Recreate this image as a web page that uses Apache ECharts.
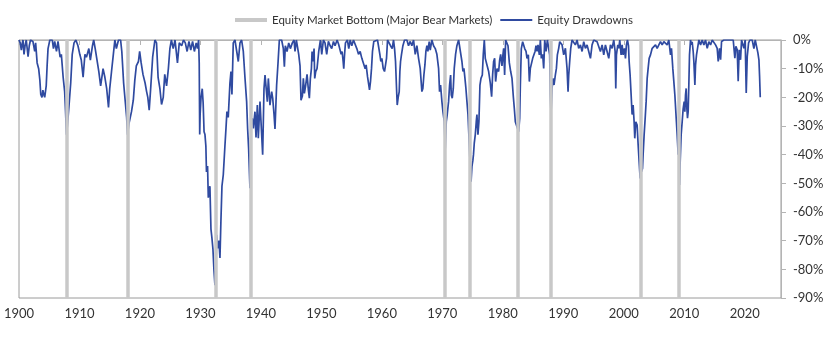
<!DOCTYPE html>
<html>
<head>
<meta charset="utf-8">
<script src="https://cdn.jsdelivr.net/npm/echarts@6/dist/echarts.min.js"></script>
<style>
  html, body { margin: 0; padding: 0; background: #ffffff; }
  #chart { width: 840px; height: 337px; }
</style>
</head>
<body>
<div id="chart"></div>
<script>
// Equity drawdowns from prior peak, in percent, as [decimal year, drawdown] pairs.
const dd1900s = [[1900.00,0],[1900.20,-1],[1900.39,-3.5],[1900.55,-1],[1900.66,0],[1900.83,-5],[1901.00,-2],[1901.20,0],[1901.50,-5.8],[1901.70,-2],[1901.90,0],[1902.10,0],[1902.30,-0.5],[1902.60,-4],[1902.75,-1],[1903.00,-8],[1903.25,-10],[1903.45,-14],[1903.60,-19],[1903.80,-20],[1903.95,-17.5],[1904.10,-19],[1904.25,-20],[1904.50,-16],[1904.65,-9],[1904.80,-3],[1905.10,0],[1905.50,0],[1905.70,-3],[1905.90,-0.5],[1906.20,-4],[1906.45,-0.5],[1906.80,-6],[1907.00,-5],[1907.30,-13],[1907.55,-18],[1907.70,-25],[1907.85,-33],[1908.00,-30],[1908.30,-22],[1908.55,-15],[1908.80,-5],[1909.10,-1],[1909.40,0],[1909.55,-0.5],[1909.75,-2],[1909.90,-3.5]];
const dd1910s = [[1910.05,-5],[1910.30,-7],[1910.60,-13],[1910.90,-5],[1911.15,-6],[1911.55,-3],[1911.80,-7],[1912.15,-2],[1912.35,0],[1912.60,-3],[1912.90,-7],[1913.20,-11],[1913.50,-16],[1913.70,-13],[1913.90,-10],[1914.20,-13],[1914.50,-17],[1914.80,-23.5],[1915.00,-17],[1915.30,-11],[1915.60,-5],[1915.85,0],[1916.10,-3],[1916.45,0],[1916.80,0],[1917.00,-4],[1917.30,-15],[1917.55,-21],[1917.80,-27],[1917.95,-33],[1918.20,-29],[1918.60,-25],[1918.90,-21],[1919.15,-14],[1919.40,-9],[1919.75,-7.5],[1919.95,-4]];
const dd1920s = [[1920.20,-8],[1920.50,-12],[1920.85,-15],[1921.10,-18],[1921.30,-20],[1921.53,-24.5],[1921.80,-16],[1922.10,-6],[1922.47,0],[1922.74,-1],[1923.00,-13],[1923.30,-17],[1923.57,-22.5],[1923.85,-20],[1924.10,-12],[1924.40,-16],[1924.70,-10],[1924.95,-3],[1925.20,0],[1925.50,-3],[1925.80,0],[1926.20,-8],[1926.50,-1],[1926.90,-2],[1927.20,0],[1927.50,-1],[1927.80,-4],[1928.10,-0.5],[1928.40,-3.5],[1928.70,-0.5],[1929.00,-4],[1929.30,-1],[1929.50,-3],[1929.70,0],[1929.80,-8],[1929.88,-33],[1929.95,-26]];
const dd1930s = [[1930.10,-20],[1930.30,-17],[1930.45,-22],[1930.60,-32],[1930.75,-33],[1930.90,-37],[1931.00,-46],[1931.18,-44],[1931.30,-55],[1931.45,-52],[1931.57,-51],[1931.74,-66],[1931.90,-69],[1932.07,-73],[1932.23,-80],[1932.40,-85.5],[1932.56,-80],[1932.67,-68],[1932.84,-72.7],[1933.06,-70],[1933.23,-76],[1933.39,-63],[1933.56,-51],[1933.78,-47],[1934.05,-37],[1934.22,-31],[1934.38,-25],[1934.60,-27],[1934.88,-15],[1935.05,-11],[1935.21,-19],[1935.43,-1],[1935.71,0],[1935.98,0],[1936.26,-7.5],[1936.54,-1],[1936.81,0],[1937.09,-4],[1937.36,-13],[1937.64,-21.5],[1937.80,-30.8],[1937.97,-37.8],[1938.19,-51.7],[1938.36,-29.7],[1938.58,-27.3],[1938.75,-30.8],[1939.02,-25],[1939.19,-34],[1939.41,-22.7],[1939.57,-34.3],[1939.85,-21.5]];
const dd1940s = [[1940.12,-21.5],[1940.29,-40],[1940.51,-17],[1940.68,-12.2],[1940.95,-12.2],[1941.06,-21.5],[1941.23,-13.4],[1941.50,-22.7],[1941.78,-18],[1941.95,-20.3],[1942.17,-26],[1942.33,-31],[1942.60,-15.7],[1942.83,-8],[1943.05,0],[1943.43,0],[1943.71,-3],[1943.88,-9.3],[1944.04,-2],[1944.32,-4],[1944.60,-1],[1944.87,-3],[1945.20,-1],[1945.48,0],[1945.64,-4],[1945.86,0],[1946.08,0],[1946.25,-5],[1946.47,-9],[1946.63,-21],[1946.86,-19.5],[1947.02,-13.4],[1947.19,-18.6],[1947.41,-15.7],[1947.63,-12],[1947.85,-17.4],[1948.01,-20.3],[1948.18,-13.4],[1948.35,-10],[1948.46,-4],[1948.62,-7.5],[1948.79,-3],[1948.90,-13.4],[1949.06,-11],[1949.28,-10],[1949.56,-4],[1949.84,0]];
const dd1950s = [[1950.06,-5],[1950.33,0],[1950.60,-1],[1950.88,-5],[1951.16,-0.5],[1951.45,-2],[1951.71,-3],[1952.00,-0.5],[1952.26,-2],[1952.60,0],[1952.85,-1.5],[1953.10,-2],[1953.27,-5],[1953.43,-4],[1953.60,-7.5],[1953.70,-10],[1953.82,-5.5],[1953.98,-1],[1954.30,0],[1954.53,-3],[1954.76,0],[1955.03,-2],[1955.31,0],[1955.64,0],[1955.86,-3],[1956.14,-5],[1956.41,-4],[1956.69,-6.4],[1956.96,-6.4],[1957.24,-10],[1957.40,-8.7],[1957.63,-12.8],[1957.79,-13.4],[1957.96,-17.4],[1958.12,-14.5],[1958.29,-9.9],[1958.45,-4],[1958.67,-0.5],[1958.95,0],[1959.28,0],[1959.50,-0.5],[1959.67,-5],[1959.83,-7.5]];
const dd1960s = [[1960.00,-6.4],[1960.22,-9.9],[1960.44,-11],[1960.60,-11.6],[1960.77,-6.4],[1960.94,0],[1961.21,-0.5],[1961.43,-2],[1961.71,-3],[1961.93,0],[1962.10,-3],[1962.26,-7.5],[1962.43,-17],[1962.54,-22.7],[1962.70,-20],[1962.87,-18],[1962.98,-11],[1963.09,-7.5],[1963.25,-5],[1963.48,-2],[1963.75,0],[1964.14,0],[1964.41,-2],[1964.69,-0.5],[1964.96,-2],[1965.24,0],[1965.52,-5],[1965.79,-2],[1966.07,-6.4],[1966.34,-9.9],[1966.62,-18],[1966.78,-16.9],[1966.95,-12.2],[1967.12,-8.7],[1967.28,-4],[1967.45,-2],[1967.61,-4],[1967.83,-0.6],[1968.00,-3.5],[1968.27,0],[1968.55,-2],[1968.83,-3],[1969.10,-5],[1969.38,-9.9],[1969.54,-18],[1969.71,-15.7],[1969.93,-21.5]];
const dd1970s = [[1970.10,-25],[1970.32,-28.5],[1970.48,-37.8],[1970.65,-28.5],[1970.81,-26],[1971.03,-21.5],[1971.20,-15.7],[1971.37,-12.2],[1971.48,-19.2],[1971.64,-20.3],[1971.81,-16.9],[1971.97,-9.9],[1972.19,-5],[1972.41,-2],[1972.69,0],[1973.02,0],[1973.24,-7.5],[1973.41,-11],[1973.57,-9.9],[1973.74,-13.4],[1973.90,-16.9],[1974.07,-21.5],[1974.24,-26],[1974.46,-36.6],[1974.62,-44.8],[1974.75,-49.4],[1974.90,-44],[1975.05,-42],[1975.15,-40],[1975.28,-36],[1975.45,-33],[1975.61,-28.5],[1975.72,-26],[1975.89,-33],[1976.05,-28.5],[1976.22,-15.7],[1976.39,-13.4],[1976.61,-12.2],[1976.77,-5],[1976.94,0],[1977.10,-6.4],[1977.38,-8.7],[1977.66,-11],[1977.93,-15],[1978.15,-19.8],[1978.32,-12],[1978.48,-7.5],[1978.65,-6.4],[1978.81,-14.5],[1979.04,-10],[1979.31,-11],[1979.48,-7],[1979.64,-5],[1979.86,-9]];
const dd1980s = [[1980.03,-5],[1980.14,-2.9],[1980.30,-12.2],[1980.47,0],[1980.69,0],[1980.86,-2],[1981.08,-8],[1981.30,-11],[1981.52,-13.4],[1981.74,-19.8],[1981.90,-23.8],[1982.07,-28.5],[1982.29,-28],[1982.46,-31],[1982.62,-32],[1982.79,-27.3],[1982.90,-15.7],[1983.06,-3],[1983.28,-0.6],[1983.45,0],[1983.62,-3],[1983.84,-4],[1984.00,-6.4],[1984.22,-5.2],[1984.39,-14.5],[1984.55,-9.9],[1984.77,-9.9],[1984.94,-6.4],[1985.10,-7],[1985.33,-4],[1985.49,-2],[1985.66,-4],[1985.82,-1.7],[1986.04,-5.2],[1986.21,0],[1986.37,-6.4],[1986.59,-5],[1986.76,-9.9],[1986.93,0],[1987.15,-4],[1987.37,0],[1987.59,0],[1987.75,-5.2],[1987.86,-19.2],[1987.97,-25.6],[1988.14,-16.9],[1988.30,-13.4],[1988.47,-15.7],[1988.69,-12.2],[1988.86,-9.9],[1989.02,-5.2],[1989.24,-2.9],[1989.41,-0.6],[1989.57,0],[1989.80,-1.7]];
const dd1990s = [[1990.07,-5.2],[1990.35,-2.9],[1990.62,-9.9],[1990.79,-18],[1990.90,-12.2],[1991.06,-7.5],[1991.23,-2.9],[1991.45,0],[1991.73,-0.6],[1992.00,-1.7],[1992.28,0],[1992.55,-2.9],[1992.83,-1.7],[1993.11,-4],[1993.38,-0.6],[1993.66,-2.9],[1993.93,-1.7],[1994.21,-4],[1994.49,-6.4],[1994.76,-1.7],[1995.04,0],[1995.59,-0.6],[1996.14,-4],[1996.42,-1.7],[1996.69,-5.2],[1996.97,-1.7],[1997.24,-4],[1997.52,-6.4],[1997.80,-1.7],[1998.07,-2.9],[1998.35,0],[1998.57,-4],[1998.68,-16.9],[1998.79,-5.2],[1999.01,-1.7],[1999.18,-2.9],[1999.34,0],[1999.56,-5.2],[1999.73,-1.7],[1999.89,-5.2]];
const dd2000s = [[2000.11,-2.9],[2000.28,-6.4],[2000.44,-1.7],[2000.61,0],[2000.78,-2],[2000.89,-7.5],[2001.05,-12.2],[2001.22,-19.2],[2001.38,-26],[2001.55,-22.7],[2001.71,-28.5],[2001.82,-34.3],[2001.99,-28.5],[2002.21,-29.7],[2002.38,-36.6],[2002.54,-42.4],[2002.71,-48.3],[2002.82,-41],[2002.93,-46],[2003.10,-44.8],[2003.20,-40],[2003.37,-33],[2003.54,-27.3],[2003.70,-21.5],[2003.87,-13.4],[2004.03,-9.9],[2004.20,-6.4],[2004.42,-5.2],[2004.70,-2.9],[2004.97,-2.9],[2005.25,-1.7],[2005.52,-2.9],[2005.80,-1.7],[2006.07,-0.6],[2006.35,-1.7],[2006.63,-0.6],[2006.90,0],[2007.18,-1.7],[2007.45,0],[2007.73,-5.2],[2007.89,-2.9],[2008.11,-9.9],[2008.28,-14.5],[2008.45,-19.2],[2008.67,-27.3],[2008.83,-33],[2009.00,-40],[2009.11,-37],[2009.22,-50.6],[2009.33,-42.4],[2009.49,-33],[2009.66,-28.5],[2009.82,-24]];
const dd2010s = [[2009.99,-21.5],[2010.10,-25],[2010.21,-19.2],[2010.32,-16.9],[2010.43,-23.8],[2010.54,-27.3],[2010.65,-25],[2010.76,-15.7],[2010.87,-5.2],[2011.04,0],[2011.20,-1.7],[2011.31,-0.6],[2011.48,-4],[2011.59,-7.5],[2011.76,-15.7],[2011.87,-8.7],[2012.03,-5.2],[2012.20,-2.9],[2012.42,0],[2012.70,-1.7],[2012.97,0],[2013.25,-1.7],[2013.52,0],[2013.80,-2.9],[2014.07,-0.6],[2014.35,-1.7],[2014.63,0],[2014.90,-0.6],[2015.18,-1.7],[2015.45,-2.9],[2015.62,-7.5],[2015.84,-2.9],[2016.01,-6.9],[2016.17,-0.5],[2016.55,0],[2017.10,0],[2017.66,0],[2018.10,0],[2018.37,-6.3],[2018.54,-2.2],[2018.76,-3.4],[2018.92,-14.4],[2019.09,-3.4],[2019.31,-6.9],[2019.48,0],[2019.70,0],[2019.86,-2.9]];
const dd2020s = [[2020.08,0],[2020.25,-18.5],[2020.42,-5.7],[2020.64,-1],[2020.86,0],[2021.24,0],[2021.52,-3],[2021.74,0],[2022.07,0],[2022.18,-4.5],[2022.35,-6.9],[2022.46,-12.7],[2022.57,-20]];

// Months in which major bear markets bottomed (decimal year).
const bearBottoms = [1907.92, 1917.98, 1932.55, 1938.30, 1970.48, 1974.55, 1982.55, 1987.92, 2002.80, 2009.15];

// Axis ticks
const yearTicks = [1900, 1910, 1920, 1930, 1940, 1950, 1960, 1970, 1980, 1990, 2000, 2010, 2020];
const yearMin = 1900, yearMax = 2026;
const pctMin = -90, pctMax = 0, pctStep = 10;

const seriesNames = ['Equity Market Bottom (Major Bear Markets)', 'Equity Drawdowns'];

const drawdowns = [].concat(dd1900s, dd1910s, dd1920s, dd1930s, dd1940s, dd1950s,
  dd1960s, dd1970s, dd1980s, dd1990s, dd2000s, dd2010s, dd2020s);

const FONT = 'Lato';
const TEXT = '#333333';
const AXIS = '#b4b4b4';
const BLUE = '#2f4aa0';
const GREY = '#c8c8c8';

const chart = echarts.init(document.getElementById('chart'), null, { renderer: 'canvas' });
chart.setOption({
  animation: false,
  backgroundColor: '#ffffff',
  textStyle: { fontFamily: FONT, color: TEXT },
  legend: {
    top: 9,
    left: 228,
    itemWidth: 32,
    itemHeight: 10,
    itemGap: 7,
    // line-only keys: hide the marker symbol, keep the stroke
    itemStyle: { opacity: 0 },
    textStyle: { fontFamily: FONT, fontSize: 11.5, color: TEXT },
    data: [
      { name: seriesNames[0], lineStyle: { width: 4, color: GREY } },
      { name: seriesNames[1], lineStyle: { width: 1.8, color: BLUE } }
    ]
  },
  grid: {
    left: 19, right: 59, top: 40, bottom: 39,
    show: true, borderColor: '#9a9a9a', borderWidth: 1
  },
  xAxis: {
    type: 'value',
    min: yearMin, max: yearMax,
    splitLine: { show: false },
    axisLine: { show: true, lineStyle: { color: AXIS, width: 1 } },
    axisTick: { show: true, length: 5, lineStyle: { color: AXIS }, customValues: yearTicks },
    axisLabel: { customValues: yearTicks, color: TEXT, fontSize: 13, fontFamily: FONT, margin: 9,
                 formatter: v => String(v) }
  },
  yAxis: {
    type: 'value',
    position: 'right',
    min: pctMin, max: pctMax, interval: pctStep,
    splitLine: { show: false },
    axisLine: { show: true, lineStyle: { color: AXIS, width: 1 } },
    axisTick: { show: true, length: 5, lineStyle: { color: AXIS } },
    axisLabel: { color: TEXT, fontSize: 13, fontFamily: FONT, margin: 12,
                 formatter: v => v + '%' }
  },
  series: [
    {
      name: seriesNames[0],
      type: 'line',
      data: [],
      symbol: 'none',
      z: 1,
      itemStyle: { color: GREY },
      lineStyle: { color: GREY, width: 4 },
      markLine: {
        silent: true,
        symbol: ['none', 'none'],
        label: { show: false },
        lineStyle: { color: GREY, width: 3.5, type: 'solid' },
        emphasis: { disabled: true },
        data: bearBottoms.map(d => ({ xAxis: d }))
      }
    },
    {
      name: seriesNames[1],
      type: 'line',
      data: drawdowns,
      symbol: 'none',
      showSymbol: false,
      z: 3,
      itemStyle: { color: BLUE },
      lineStyle: { color: BLUE, width: 1.7 },
      emphasis: { disabled: true }
    }
  ]
});
</script>
</body>
</html>
